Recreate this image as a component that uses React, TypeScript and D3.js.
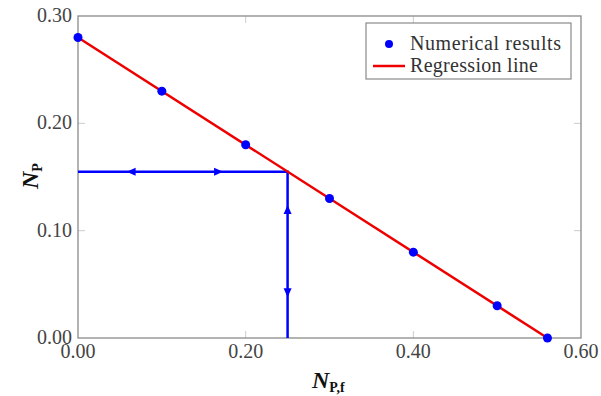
import React from "react";
import { scaleLinear, line } from "d3";

const numX = [0, 0.1, 0.2, 0.3, 0.4, 0.5, 0.56];
const numY = [0.28, 0.23, 0.18, 0.13, 0.08, 0.03, 0];
const regX = [0, 0.56];
const regY = [0.28, 0];
const guideX = [0, 0.25, 0.25];
const guideY = [0.155, 0.155, 0];
// arrow tips: [x, y, direction]
const arrows: [number, number, string][] = [
  [0.058, 0.155, "left"],
  [0.173, 0.155, "right"],
  [0.25, 0.124, "up"],
  [0.25, 0.038, "down"],
];
const xTicks = [0, 0.2, 0.4, 0.6];
const yTicks = [0, 0.1, 0.2, 0.3];

const W = 601;
const H = 396;
const m = { left: 78, right: 20, top: 16, bottom: 58 };
const font = "'Liberation Serif', 'Times New Roman', serif";

export default function App() {
  const x = scaleLinear().domain([0, 0.6]).range([m.left, W - m.right]);
  const y = scaleLinear().domain([0, 0.3]).range([H - m.bottom, m.top]);
  const path = line<[number, number]>()
    .x((d) => x(d[0]))
    .y((d) => y(d[1]));

  const arrowPath = (tx: number, ty: number, dir: string) => {
    const L = 9;
    const w = 4;
    const px = x(tx);
    const py = y(ty);
    if (dir === "left") return `M${px},${py}L${px + L},${py - w}L${px + L},${py + w}Z`;
    if (dir === "right") return `M${px},${py}L${px - L},${py - w}L${px - L},${py + w}Z`;
    if (dir === "up") return `M${px},${py}L${px - w},${py + L}L${px + w},${py + L}Z`;
    return `M${px},${py}L${px - w},${py - L}L${px + w},${py - L}Z`;
  };

  const x0 = x(0);
  const x1 = x(0.6);
  const y0 = y(0);
  const y1 = y(0.3);
  const ts = { fontFamily: font };

  return (
    <svg width={W} height={H} style={{ position: "absolute", left: 0, top: 0, background: "#fff" }}>
      {/* grid ticks */}
      {xTicks.slice(1, -1).map((t, i) => (
        <g key={"xt" + i} stroke="#ccc" strokeWidth={1}>
          <line x1={x(t)} x2={x(t)} y1={y0} y2={y0 - 7} />
          <line x1={x(t)} x2={x(t)} y1={y1} y2={y1 + 7} />
        </g>
      ))}
      {yTicks.slice(1, -1).map((t, i) => (
        <g key={"yt" + i} stroke="#ccc" strokeWidth={1}>
          <line x1={x0} x2={x0 + 7} y1={y(t)} y2={y(t)} />
          <line x1={x1} x2={x1 - 7} y1={y(t)} y2={y(t)} />
        </g>
      ))}
      {/* frame */}
      <rect x={x0} y={y1} width={x1 - x0} height={y0 - y1} fill="none" stroke="#8a8a8a" strokeWidth={1.3} />

      {/* tick labels */}
      {xTicks.map((t, i) => (
        <text key={"xl" + i} style={ts} x={x(t)} y={y0 + 20} textAnchor="middle" fontSize={20} fill="#444">
          {t.toFixed(2)}
        </text>
      ))}
      {yTicks.map((t, i) => (
        <text key={"yl" + i} style={ts} x={x0 - 6} y={y(t) + 6} textAnchor="end" fontSize={20} fill="#444">
          {t.toFixed(2)}
        </text>
      ))}

      {/* guide lines */}
      <path
        d={path(guideX.map((v, i) => [v, guideY[i]]) as [number, number][]) ?? ""}
        fill="none"
        stroke="#0000ff"
        strokeWidth={2.5}
      />
      {arrows.map((a, i) => (
        <path key={"ar" + i} d={arrowPath(a[0], a[1], a[2])} fill="#0000ff" />
      ))}

      {/* regression */}
      <path
        d={path(regX.map((v, i) => [v, regY[i]]) as [number, number][]) ?? ""}
        fill="none"
        stroke="#ee0000"
        strokeWidth={2.5}
      />
      {numX.map((v, i) => (
        <circle key={"pt" + i} cx={x(v)} cy={y(numY[i])} r={4.5} fill="#0000ff" />
      ))}

      {/* legend */}
      <rect x={366} y={23} width={205} height={56} fill="#fff" stroke="#8a8a8a" strokeWidth={1.2} />
      <circle cx={389} cy={44} r={4} fill="#0000ff" />
      <text style={ts} x={410} y={50} fontSize={20} fill="#333" textLength={151} lengthAdjust="spacing">
        Numerical results
      </text>
      <line x1={373} x2={405} y1={66} y2={66} stroke="#ee0000" strokeWidth={2.5} />
      <text style={ts} x={410} y={72} fontSize={20} fill="#333" textLength={128} lengthAdjust="spacing">
        Regression line
      </text>

      {/* axis labels */}
      <text style={ts} x={312} y={388} fontSize={24} fontWeight="bold" fontStyle="italic" fill="#111">
        N
        <tspan fontSize={14} fontStyle="normal" dy={4}>P,f</tspan>
      </text>
      <text
        style={ts}
        transform={`translate(38,${(y0 + y1) / 2 + 12}) rotate(-90)`}
        fontSize={24}
        fontWeight="bold"
        fontStyle="italic"
        fill="#111"
      >
        N
        <tspan fontSize={14} fontStyle="normal" dy={4}>P</tspan>
      </text>
    </svg>
  );
}
